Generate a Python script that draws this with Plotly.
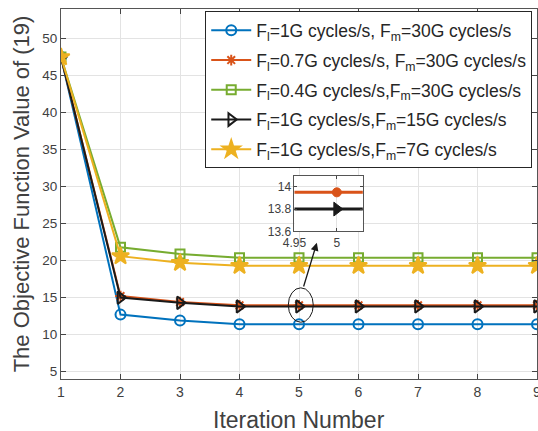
import plotly.graph_objects as go

iterations = [1, 2, 3, 4, 5, 6, 7, 8, 9]
blue_vals   = [47.5, 12.7, 11.9, 11.4, 11.4, 11.4, 11.4, 11.4, 11.4]
red_vals    = [47.5, 15.2, 14.4, 13.95, 13.95, 13.95, 13.95, 13.95, 13.95]
green_vals  = [47.5, 21.8, 20.9, 20.4, 20.4, 20.4, 20.4, 20.4, 20.4]
black_vals  = [47.5, 15.0, 14.3, 13.8, 13.8, 13.8, 13.8, 13.8, 13.8]
yellow_vals = [47.5, 20.6, 19.7, 19.3, 19.3, 19.3, 19.3, 19.3, 19.3]

names = [
    "F<sub>l</sub>=1G cycles/s, F<sub>m</sub>=30G cycles/s",
    "F<sub>l</sub>=0.7G cycles/s, F<sub>m</sub>=30G cycles/s",
    "F<sub>l</sub>=0.4G cycles/s,F<sub>m</sub>=30G cycles/s",
    "F<sub>l</sub>=1G cycles/s,F<sub>m</sub>=15G cycles/s",
    "F<sub>l</sub>=1G cycles/s,F<sub>m</sub>=7G cycles/s",
]
x_title = "Iteration Number"
y_title = "The Objective Function Value of (19)"
colors = ["#0072BD", "#D95319", "#77AC30", "#1a1a1a", "#EDB120"]
symbols = ["circle-open", "asterisk-open", "square-open", "triangle-right-open", "star"]
sizes = [10, 9, 9, 11, 13]
series = [blue_vals, red_vals, green_vals, black_vals, yellow_vals]

fig = go.Figure()
for i, (vals, nm, c, s, sz) in enumerate(zip(series, names, colors, symbols, sizes)):
    fig.add_trace(go.Scatter(
        x=iterations, y=vals, name=nm, mode="lines+markers", legendgroup=f"g{i}",
        line=dict(color=c, width=2),
        marker=dict(symbol=s, size=sz, color=c, line=dict(color=c, width=2)),
    ))

# inset traces (zoom around iteration 5)
for vals, c, s, sz in [(red_vals, colors[1], "circle", 9), (black_vals, colors[3], "triangle-right", 12)]:
    fig.add_trace(go.Scatter(
        x=iterations, y=vals, mode="lines+markers", showlegend=False,
        line=dict(color=c, width=3),
        marker=dict(symbol=s, size=sz, color=c, line=dict(color=c, width=1)),
        xaxis="x2", yaxis="y2",
    ))

axis_col = "#262626"
grid_col = "#e3e3e3"
font_family = "Liberation Sans, Arial, Helvetica, sans-serif"

fig.update_layout(
    width=538, height=431,
    margin=dict(l=61, r=1, t=9, b=52),
    paper_bgcolor="white", plot_bgcolor="white",
    font=dict(family=font_family, color=axis_col),
    xaxis=dict(
        range=[1, 9], tickvals=iterations, ticks="inside", ticklen=5,
        showline=True, linecolor="#555555", linewidth=1, mirror="ticks",
        showgrid=True, gridcolor=grid_col, zeroline=False, automargin=False,
        ticklabeloverflow="allow",
        tickfont=dict(size=14, color="#404040"),
    ),
    yaxis=dict(
        range=[4, 54], tickvals=[5, 10, 15, 20, 25, 30, 35, 40, 45, 50], ticks="inside", ticklen=5,
        showline=True, linecolor="#555555", linewidth=1, mirror="ticks",
        showgrid=True, gridcolor=grid_col, zeroline=False, automargin=False,
        tickfont=dict(size=13.5, color="#404040"),
        title=dict(text=y_title, font=dict(size=22, color="#404040"), standoff=6),
    ),
    xaxis2=dict(
        domain=[0.4905, 0.634], anchor="y2", range=[4.95, 5.0306],
        tickvals=[4.95, 5], ticktext=["4.95", "5"], ticks="inside", ticklen=3,
        showline=True, linecolor="#555555", linewidth=1, mirror="ticks",
        showgrid=True, gridcolor=grid_col, zeroline=False, automargin=False,
        tickfont=dict(size=12, color="#404040"),
    ),
    yaxis2=dict(
        domain=[0.399, 0.5497], anchor="x2", range=[13.6, 14.1],
        tickvals=[13.6, 13.8, 14], ticktext=["13.6", "13.8", "14"], ticks="inside", ticklen=3,
        showline=True, linecolor="#555555", linewidth=1, mirror="ticks",
        showgrid=True, gridcolor=grid_col, zeroline=False, automargin=False,
        tickfont=dict(size=12, color="#404040"),
    ),
    legend=dict(
        x=0.303, y=0.9935, xanchor="left", yanchor="top",
        bgcolor="white", bordercolor=axis_col, borderwidth=1,
        font=dict(size=17.5, color="#262626"), itemwidth=40,
        tracegroupgap=4,
    ),
)

# x-axis title placed as paper annotation (sits low, as in the reference)
fig.add_annotation(x=0.5, y=-0.112, xref="paper", yref="paper", xanchor="center", yanchor="middle",
                   text=x_title, showarrow=False, font=dict(size=23, color="#404040"))

# ellipse around the converged point and arrow to the inset
fig.add_shape(type="circle", xref="x", yref="y", x0=4.82, x1=5.24, y0=11.67, y1=16.32,
              line=dict(color="#1a1a1a", width=1))
fig.add_annotation(x=5.30, y=22.4, ax=5.07, ay=16.3, xref="x", yref="y", axref="x", ayref="y",
                   text="", showarrow=True, arrowhead=2, arrowsize=1.2, arrowwidth=1.3,
                   arrowcolor="#1a1a1a")

fig.write_html("out.html", config={"displayModeBar": False},
               post_script="document.body.style.margin='0';document.body.style.overflow='hidden';")
